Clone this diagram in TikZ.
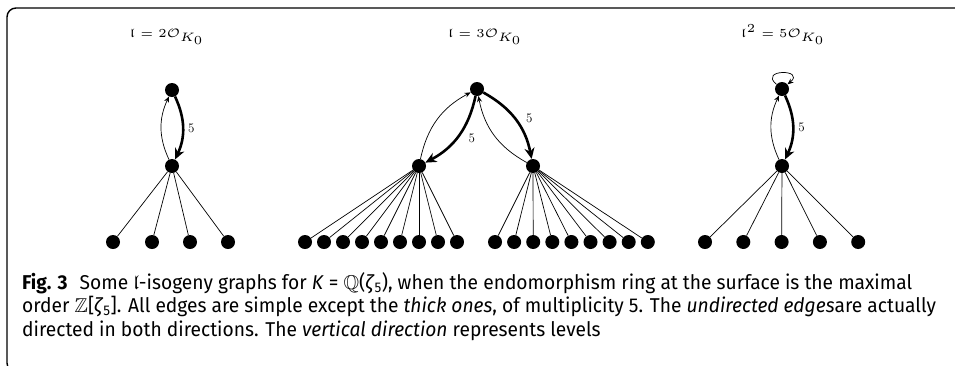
\documentclass[tikz,border=0pt]{standalone}
\usepackage{amsmath,amssymb}
\usepackage{fontspec}
\usepackage{tikz}
\usetikzlibrary{arrows.meta,calc}
\newfontfamily\capfont[FakeStretch=0.96]{Fira Sans}

\begin{document}
\begin{tikzpicture}[x=1pt, y=1pt,
    vertex/.style={circle, fill=black, inner sep=0pt, minimum size=14pt},
    thinline/.style={line width=0.7pt, -{Stealth[length=6pt, width=5pt]}},
    thinarr/.style={thinline, bend left=25},
    thickarr/.style={line width=2.6pt, -{Stealth[length=11pt, width=10pt]}, bend left=25},
    leafedge/.style={line width=0.7pt},
    mult/.style={auto, inner sep=4pt, font=\fontsize{13}{15}\selectfont},
    title/.style={anchor=base, font=\tiny, scale=2.45},
    capline/.style={anchor=base west, inner sep=0pt, font=\capfont\fontsize{20}{23}\selectfont}]
    \useasboundingbox (0,0) rectangle (955,-365);
    % frame
    \begin{scope}
        \clip (0,0) rectangle (955,-365);
        \draw[line width=1.4pt, rounded corners=9pt] (960,-8) -- (7,-8) -- (7,-372) -- (40,-372);
    \end{scope}

    % titles
    \node[title] (title1) at (167,-37) {$\mathfrak{l} = 2\mathcal{O}_{K_0}$};
    \node[title] (title2) at (485,-37) {$\mathfrak{l} = 3\mathcal{O}_{K_0}$};
    \node[title] (title3) at (783,-37) {$\mathfrak{l}^2 = 5\mathcal{O}_{K_0}$};

    % l = 2O
    \node[vertex] (top1) at (172,-90) {};
    \node[vertex] (mid1) at (172,-166) {};
    \foreach \x [count=\i] in {113,152,190,228} {
        \node[vertex] (leafA\i) at (\x,-242) {};
        \draw[leafedge] (mid1) -- (leafA\i);
    }
    \draw[thickarr] (top1) to node[mult] {5} (mid1);
    \draw[thinarr] (mid1) to (top1);

    % l = 3O
    \node[vertex] (top2) at (477,-89) {};
    \node[vertex] (left2) at (419,-166) {};
    \node[vertex] (right2) at (533,-166) {};
    \foreach \i in {0,...,8} {
        \node[vertex] (leafB\i) at (305+19*\i,-242) {};
        \node[vertex] (leafC\i) at (495+19.1*\i,-242) {};
        \draw[leafedge] (left2) -- (leafB\i);
        \draw[leafedge] (right2) -- (leafC\i);
    }
    \draw[thickarr] (top2) to node[mult, pos=0.4] {5} (left2);
    \draw[thinarr] (left2) to (top2);
    \draw[thickarr] (top2) to node[mult, pos=0.62] {5} (right2);
    \draw[thinarr] (right2) to (top2);

    % l^2 = 5O
    \node[vertex] (top3) at (782,-89) {};
    \node[vertex] (mid3) at (782,-166) {};
    \foreach \i in {0,...,4} {
        \node[vertex] (leafD\i) at (705+38.3*\i,-242) {};
        \draw[leafedge] (mid3) -- (leafD\i);
    }
    \draw[thickarr] (top3) to node[mult] {5} (mid3);
    \draw[thinarr] (mid3) to (top3);
    \draw[thinline] (top3) to[out=140, in=40, min distance=24pt] (top3);

    % caption
    \node[capline] (cap1) at (22,-289) {\textbf{Fig. 3}\hspace{0.6em}Some $\mathfrak{l}$-isogeny graphs for \textit{K} = $\mathbb{Q}$(\textit{ζ}\textsubscript{5}), when the endomorphism ring at the surface is the maximal};
    \node[capline] (cap2) at (22,-312.5) {order $\mathbb{Z}$[\textit{ζ}\textsubscript{5}]. All edges are simple except the \textit{thick ones}, of multiplicity 5. The \textit{undirected edges}are actually};
    \node[capline] (cap3) at (22,-336) {directed in both directions. The \textit{vertical direction} represents levels};
\end{tikzpicture}
\end{document}
